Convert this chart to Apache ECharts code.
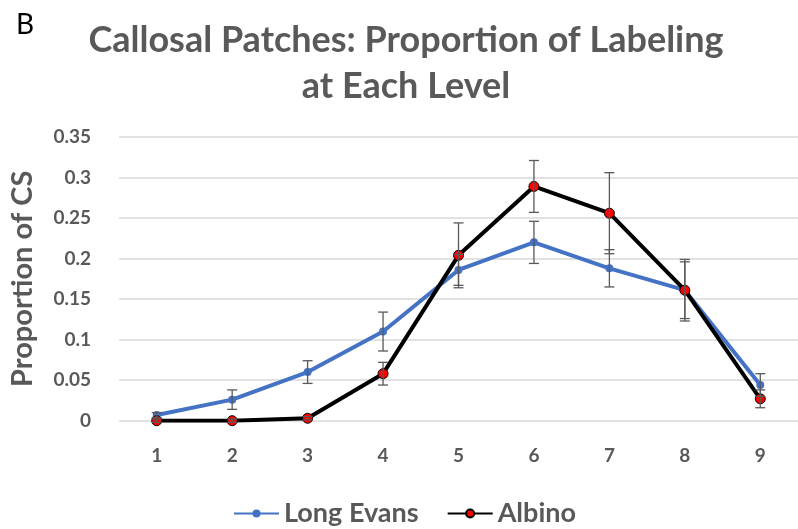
<!DOCTYPE html>
<html>
<head>
<meta charset="utf-8">
<script src="https://cdn.jsdelivr.net/npm/echarts@6/dist/echarts.min.js"></script>
<style>
html,body{margin:0;padding:0;background:#fff;}
#chart{width:798px;height:529px;}
</style>
</head>
<body>
<div id="chart"></div>
<script>
const categories = ['1','2','3','4','5','6','7','8','9'];
const longEvans = [0.007, 0.026, 0.060, 0.110, 0.186, 0.220, 0.188, 0.161, 0.044];
const longEvansErr = [0.003, 0.012, 0.014, 0.024, 0.019, 0.026, 0.023, 0.035, 0.014];
const albino = [0.0, 0.0, 0.003, 0.058, 0.204, 0.289, 0.256, 0.161, 0.027];
const albinoErr = [0.002, 0.002, 0.002, 0.014, 0.040, 0.032, 0.050, 0.038, 0.011];
const yTicks = [0, 0.05, 0.1, 0.15, 0.2, 0.25, 0.3, 0.35];

const gray = '#595959';
const font = 'Lato, "Open Sans", sans-serif';

function errData(vals, errs) {
  return vals.map((v, i) => [i, v - errs[i], v + errs[i]]);
}
function errRender(params, api) {
  const x = api.value(0);
  const lo = api.coord([x, api.value(1)]);
  const hi = api.coord([x, api.value(2)]);
  const half = 5;
  const style = {stroke: gray, lineWidth: 1.3, fill: null};
  return {
    type: 'group',
    children: [
      {type: 'line', shape: {x1: lo[0], y1: lo[1], x2: hi[0], y2: hi[1]}, style: style},
      {type: 'line', shape: {x1: lo[0]-half, y1: lo[1], x2: lo[0]+half, y2: lo[1]}, style: style},
      {type: 'line', shape: {x1: hi[0]-half, y1: hi[1], x2: hi[0]+half, y2: hi[1]}, style: style}
    ]
  };
}

const chart = echarts.init(document.getElementById('chart'));
chart.setOption({
  backgroundColor: '#fff',
  animation: false,
  title: [{
    text: 'Callosal Patches: Proportion of Labeling\nat Each Level',
    left: 401, top: 12, textAlign: 'center',
    textStyle: {fontFamily: font, fontWeight: 'bold', fontSize: 36, color: gray, lineHeight: 46}
  }, {
    text: 'B', left: 11, top: 6,
    textStyle: {fontFamily: font, fontWeight: 'normal', fontSize: 28, color: '#000'}
  }],
  grid: {left: 119, top: 137, width: 690, bottom: 108.3, containLabel: false},
  legend: {
    data: ['Long Evans', 'Albino'],
    top: 495, left: 228,
    itemWidth: 45, itemHeight: 10, itemGap: 28,
    textStyle: {fontFamily: font, fontWeight: 'bold', fontSize: 27, color: gray}
  },
  xAxis: {
    type: 'category', data: categories, boundaryGap: true,
    axisLine: {show: false}, axisTick: {show: false},
    axisLabel: {fontFamily: font, fontWeight: 'bold', fontSize: 19, color: gray, margin: 26}
  },
  yAxis: {
    type: 'value', min: 0, max: 0.35, interval: 0.05,
    name: 'Proportion of CS', nameLocation: 'middle', nameGap: 82,
    nameTextStyle: {fontFamily: font, fontWeight: 'bold', fontSize: 29, color: gray},
    axisLine: {show: false}, axisTick: {show: false},
    splitLine: {lineStyle: {color: '#d9d9d9', width: 1.5}},
    axisLabel: {fontFamily: font, fontWeight: 'bold', fontSize: 19, color: gray, margin: 28,
      formatter: v => { const t = yTicks.find(k => Math.abs(k - v) < 1e-9); return String(t !== undefined ? t : v); }}
  },
  series: [
    {
      name: 'Long Evans', type: 'line', data: longEvans,
      symbol: 'circle', symbolSize: 8,
      lineStyle: {color: '#4472C4', width: 4},
      itemStyle: {color: '#4472C4'}, z: 2
    },
    {
      name: 'Albino', type: 'line', data: albino,
      symbol: 'circle', symbolSize: 10,
      lineStyle: {color: '#000', width: 4},
      itemStyle: {color: '#ff0000', borderColor: '#000', borderWidth: 1}, z: 3
    },
    {type: 'custom', data: errData(longEvans, longEvansErr), renderItem: errRender, z: 4, silent: true},
    {type: 'custom', data: errData(albino, albinoErr), renderItem: errRender, z: 4, silent: true}
  ]
});
</script>
</body>
</html>
